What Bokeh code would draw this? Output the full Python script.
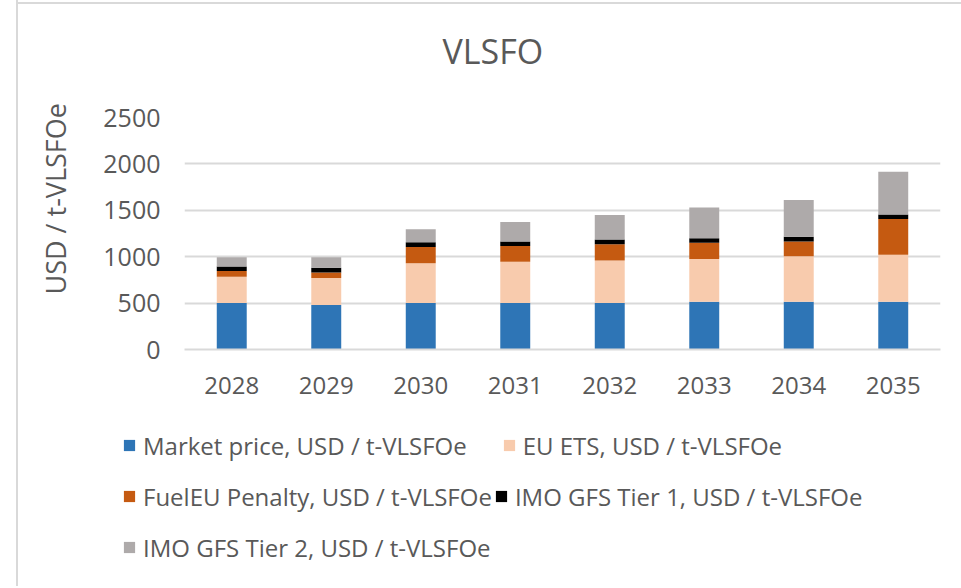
from bokeh.plotting import figure
from bokeh.layouts import column
from bokeh.models import Range1d, FixedTicker, Legend, LegendItem, Title, ColumnDataSource
from bokeh.embed import file_html
from bokeh.resources import INLINE

years = ["2028", "2029", "2030", "2031", "2032", "2033", "2034", "2035"]
market_price = [500, 480, 500, 500, 500, 515, 515, 515]
eu_ets = [285, 290, 430, 445, 460, 460, 490, 505]
fueleu_penalty = [60, 60, 175, 170, 175, 175, 160, 385]
imo_tier1 = [50, 50, 50, 50, 50, 50, 50, 50]
imo_tier2 = [100, 115, 140, 210, 265, 330, 395, 460]
y_ticks = [0, 500, 1000, 1500, 2000, 2500]

series = ["market", "ets", "fueleu", "tier1", "tier2"]
labels = ["Market price, USD / t-VLSFOe", "EU ETS, USD / t-VLSFOe",
          "FuelEU Penalty, USD / t-VLSFOe", "IMO GFS Tier 1, USD / t-VLSFOe",
          "IMO GFS Tier 2, USD / t-VLSFOe"]
colors = ["#2E75B6", "#F8CBAD", "#C55A11", "#000000", "#AEAAAA"]

source = ColumnDataSource(dict(year=years, market=market_price, ets=eu_ets,
                               fueleu=fueleu_penalty, tier1=imo_tier1, tier2=imo_tier2))

FONT = "Open Sans"
TXT = "#595959"

# ---- main chart ----
p = figure(x_range=years, y_range=Range1d(0, 2500), width=961, height=410,
           output_backend="svg", toolbar_location=None, frame_align=False,
           min_border_left=184, min_border_right=21, min_border_top=117, min_border_bottom=61)
p.background_fill_color = None
p.border_fill_color = None

p.title.text = "VLSFO"
p.title.text_font = FONT
p.title.text_font_size = "34px"
p.title.text_font_style = "normal"
p.title.text_color = TXT
p.title.align = "left"
p.title.offset = 258
p.title.standoff = 10

# spacer between title and plot area
p.add_layout(Title(text=" ", text_font_size="2px", standoff=35), "above")

renderers = p.vbar_stack(series, x="year", width=0.317, color=colors, source=source, line_width=0)

p.outline_line_color = None
p.xgrid.visible = False
p.ygrid.grid_line_color = "#D9D9D9"
p.ygrid.grid_line_width = 2

p.yaxis.ticker = FixedTicker(ticks=y_ticks)
p.yaxis.axis_line_color = None
p.yaxis.major_tick_line_color = None
p.yaxis.minor_tick_line_color = None
p.yaxis.major_label_standoff = 18
p.yaxis.major_label_text_font = FONT
p.yaxis.major_label_text_font_size = "25px"
p.yaxis.major_label_text_color = TXT

p.xaxis.axis_line_color = "#D9D9D9"
p.xaxis.axis_line_width = 2
p.xaxis.major_tick_line_color = None
p.xaxis.minor_tick_line_color = None
p.xaxis.major_label_standoff = 21
p.xaxis.major_label_text_font = FONT
p.xaxis.major_label_text_font_size = "24px"
p.xaxis.major_label_text_color = TXT

ytitle = Title(text="USD / t-VLSFOe", align="left", offset=55, standoff=53,
               text_font=FONT, text_font_size="27px", text_font_style="normal", text_color=TXT)
p.add_layout(ytitle, "left")

# ---- legend strip ----
lg = figure(width=961, height=176, output_backend="svg", toolbar_location=None,
            title_location=None, x_axis_location=None, y_axis_location=None,
            x_range=Range1d(0, 1), y_range=Range1d(0, 1), frame_align=False, min_border=0,
            min_border_left=0, min_border_right=0, min_border_top=0, min_border_bottom=0)
lg.grid.visible = False
lg.outline_line_color = None
lg.background_fill_color = None
lg.border_fill_color = None
keys = [lg.vbar(x=[0.5], bottom=[0], top=[0], width=0, fill_color=c, line_color=None)
        for c in colors]


def make_legend(idx, loc, spacing):
    items = [LegendItem(label=labels[i], renderers=[keys[i]]) for i in idx]
    return Legend(items=items, location=loc, orientation="horizontal", spacing=spacing,
                  label_text_font=FONT, label_text_font_size="24px", label_text_color=TXT,
                  glyph_width=14, glyph_height=14, label_standoff=7,
                  padding=0, margin=0, border_line_color=None, background_fill_alpha=0)


lg.add_layout(make_legend([0, 1], (122, 124.5), 35))
lg.add_layout(make_legend([2, 3], (122, 73.5), 2))
lg.add_layout(make_legend([4], (122, 22.5), 2))

chart_border = ("linear-gradient(to right, transparent 16px, #D9D9D9 16px, #D9D9D9 18px, transparent 18px) "
                "0 0 / 100% 100% no-repeat, "
                "linear-gradient(to bottom, transparent 2px, #D9D9D9 2px, #D9D9D9 4px, transparent 4px) "
                "16px 0 / 2000px 100% no-repeat, #FFFFFF")
layout = column(p, lg, spacing=0, styles={"background": chart_border})

open("out.html", "w").write(file_html(layout, INLINE))
